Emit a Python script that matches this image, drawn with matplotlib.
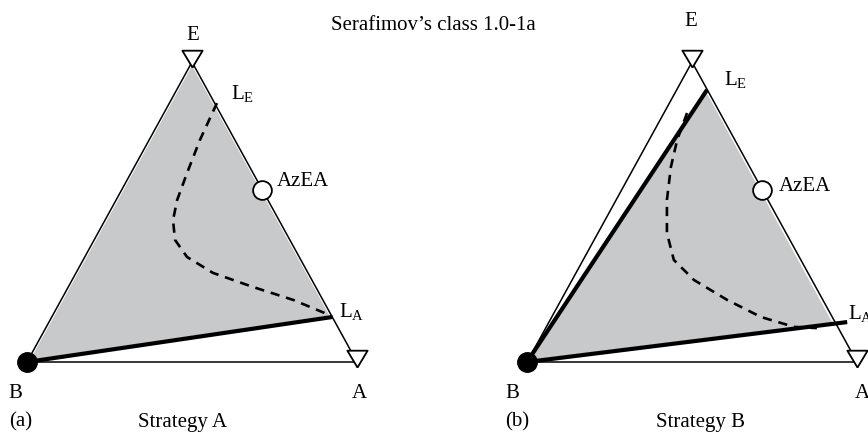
import numpy as np
import matplotlib.pyplot as plt

plt.rcParams['font.family'] = 'Liberation Serif'
plt.rcParams['mathtext.fontset'] = 'custom'
plt.rcParams['mathtext.rm'] = 'Liberation Serif'
plt.rcParams['mathtext.it'] = 'Liberation Serif:italic'

GREY = '#c8c9cb'
FS = 15

# compositions given as (x_A, x_E); x_B = 1 - x_A - x_E
azea = (0.425, 0.575)

# panel (a) - strategy A
le_a = (0.14, 0.86)
la_a = (0.85, 0.15)
curve_a_xA = [0.144, 0.154, 0.170, 0.185, 0.206, 0.245, 0.310, 0.415, 0.560, 0.703, 0.821, 0.850]
curve_a_xE = [0.863, 0.740, 0.630, 0.540, 0.473, 0.407, 0.350, 0.297, 0.250, 0.207, 0.163, 0.150]

# panel (b) - strategy B
le_b = (0.092, 0.907)
la_b = (0.869, 0.128)
curve_b_xA = [0.070, 0.085, 0.111, 0.154, 0.209, 0.275, 0.370, 0.503, 0.634, 0.751, 0.822]
curve_b_xE = [0.830, 0.740, 0.650, 0.540, 0.430, 0.340, 0.273, 0.207, 0.150, 0.117, 0.113]


def tern(xA, xE):
    xA = np.asarray(xA, dtype=float)
    xE = np.asarray(xE, dtype=float)
    return xA + 0.5 * xE, xE


# down pointing triangle with its tip a little below the vertex
tri_marker = [(0, -0.3), (-0.6, 0.7), (0.6, 0.7), (0, -0.3)]


def draw_panel(ax, shade, thick, cxA, cxE, labels):
    ax.set_xlim(0, 1)
    ax.set_ylim(0, 1)
    ax.axis('off')

    sx, sy = tern([p[0] for p in shade], [p[1] for p in shade])
    ax.fill(sx, sy, facecolor=GREY, edgecolor='white', lw=2.5, zorder=1, clip_on=False)

    # triangle B - A - E
    bx, by = tern([0, 1, 0, 0], [0, 0, 1, 0])
    ax.plot(bx, by, color='black', lw=1.1, zorder=2, clip_on=False)

    x, y = tern(cxA, cxE)
    ax.plot(x, y, color='black', lw=1.9, dashes=(3.5, 2.6), zorder=3, clip_on=False)

    for p in thick:
        tx, ty = tern([0, p[0]], [0, p[1]])
        ax.plot(tx, ty, color='black', lw=3, solid_capstyle='butt', zorder=4, clip_on=False)

    ax.plot(0, 0, 'o', color='black', ms=14, zorder=5, clip_on=False)
    ex, ey = tern([1, 0], [0, 1])
    ax.plot(ex, ey, ls='none', marker=tri_marker, ms=17, mfc='white', mec='black',
            mew=1.3, zorder=5, clip_on=False)
    zx, zy = tern(*azea)
    ax.plot(zx, zy, 'o', ms=13.5, mfc='white', mec='black', mew=1.3, zorder=5, clip_on=False)

    for (px, py), txt, off, ha in labels:
        ax.annotate(txt, (px, py), xytext=off, textcoords='offset pixels',
                    ha=ha, va='center', fontsize=FS, annotation_clip=False)


fig = plt.figure(figsize=(8.68, 4.33), dpi=100)
W, H = 868, 433
ax_a = fig.add_axes([27 / W, (H - 362) / H, 330 / W, 300 / H])
ax_b = fig.add_axes([527 / W, (H - 362) / H, 330 / W, 300 / H])

lex, ley = tern(*le_a)
lax, lay = tern(*la_a)
zx, zy = tern(*azea)
draw_panel(ax_a, [(0, 0), (0, 1), la_a], [la_a], curve_a_xA, curve_a_xE, [
    ((0.5, 1), 'E', (1, 27), 'center'),
    ((0, 0), 'B', (-12, -31), 'center'),
    ((1, 0), 'A', (2, -31), 'center'),
    ((lex, ley), r'L$_\mathrm{E}$', (16, 10), 'left'),
    ((zx, zy), 'AzEA', (15, 8), 'left'),
    ((lax, lay), r'L$_\mathrm{A}$', (7, 5), 'left'),
])

lex, ley = tern(*le_b)
lax, lay = tern(*la_b)
draw_panel(ax_b, [(0, 0), le_b, la_b], [le_b, (la_b[0] * 1.04, la_b[1] * 1.04)],
           curve_b_xA, curve_b_xE, [
    ((0.5, 1), 'E', (-1, 40), 'center'),
    ((0, 0), 'B', (-15, -31), 'center'),
    ((1, 0), 'A', (5, -31), 'center'),
    ((lex, ley), r'L$_\mathrm{E}$', (17, 10), 'left'),
    ((zx, zy), 'AzEA', (17, 3), 'left'),
    ((lax, lay), r'L$_\mathrm{A}$', (13, 10), 'left'),
])

fig.text(433 / W, 1 - 26 / H, 'Serafimov\u2019s class 1.0-1a', ha='center', va='center', fontsize=FS)
fig.text(21 / W, 1 - 422 / H, '(a)', ha='center', va='center', fontsize=FS)
fig.text(183 / W, 1 - 422 / H, 'Strategy A', ha='center', va='center', fontsize=FS)
fig.text(517 / W, 1 - 422 / H, '(b)', ha='center', va='center', fontsize=FS)
fig.text(701 / W, 1 - 422 / H, 'Strategy B', ha='center', va='center', fontsize=FS)

fig.savefig('out.png', dpi=100)
